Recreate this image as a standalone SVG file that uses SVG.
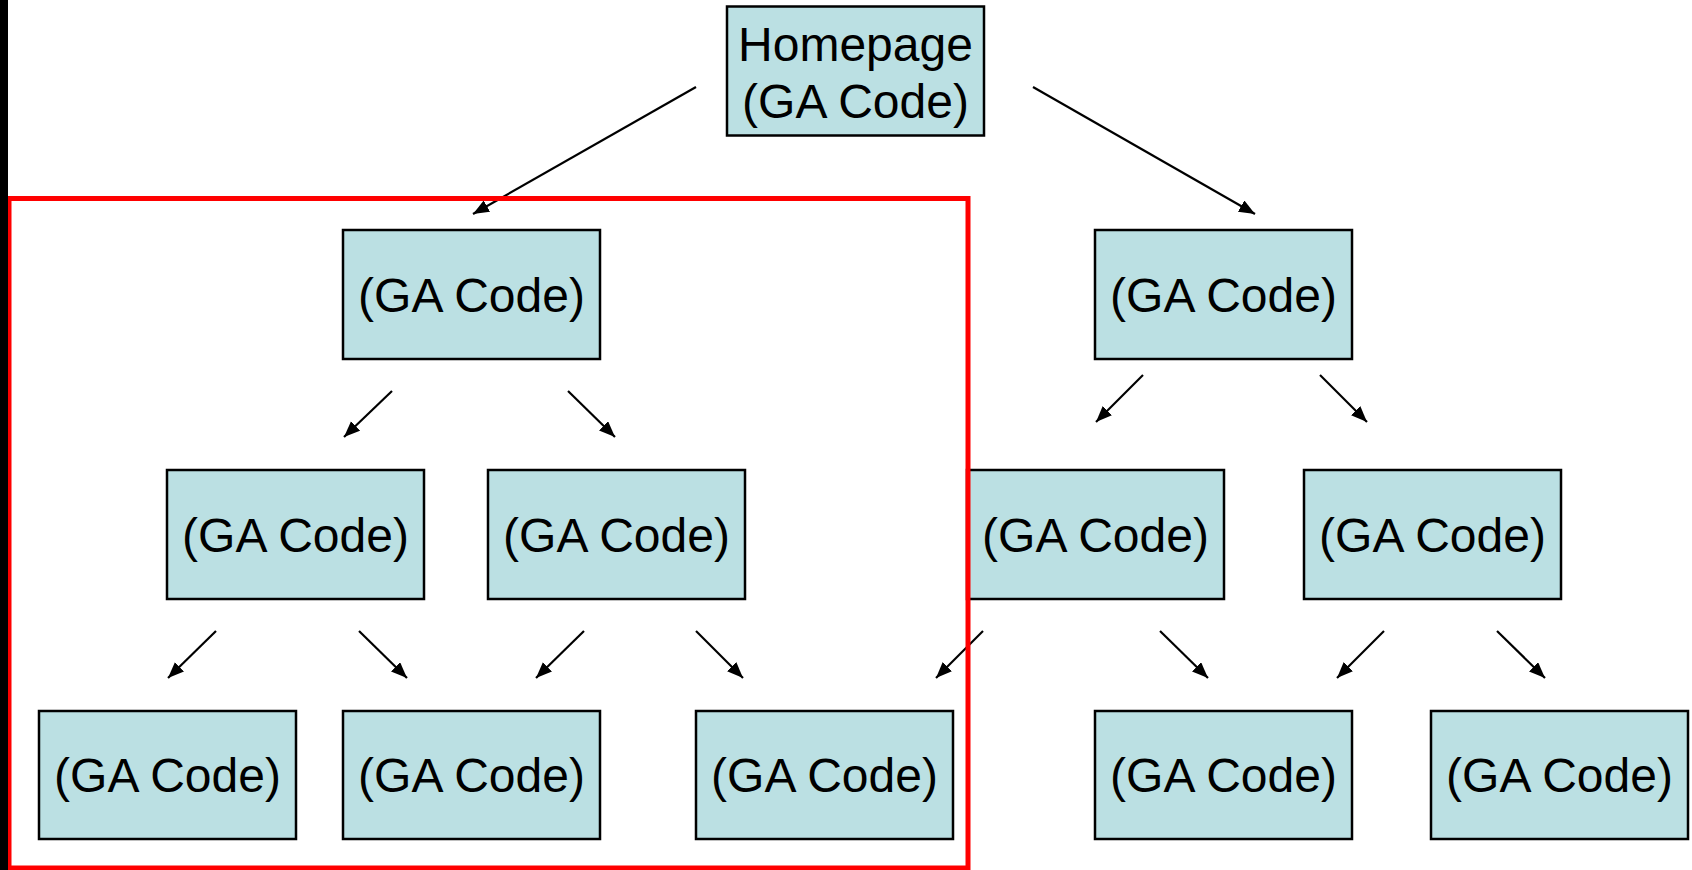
<svg xmlns="http://www.w3.org/2000/svg" width="1692" height="870" viewBox="0 0 1692 870">
<style>
.box{fill:#BBE0E3;stroke:#000;stroke-width:2.5}
.lbl{font-family:"Liberation Sans",Arial,sans-serif;font-size:48px;fill:#000;text-anchor:middle}
.con{stroke:#000;stroke-width:2.2;fill:none;marker-end:url(#arr)}
</style>
<defs>
<marker id="arr" markerUnits="userSpaceOnUse" markerWidth="18" markerHeight="14" refX="16" refY="6.5" orient="auto">
<path d="M0,0 L16,6.5 L0,13 z" fill="#000"/>
</marker>
</defs>
<rect x="0" y="0" width="1692" height="870" fill="#fff"/>
<g id="home"><rect class="box" x="727" y="6.5" width="257" height="129"/><text class="lbl" x="855.5" y="61">Homepage</text><text class="lbl" x="855.5" y="118">(GA Code)</text></g>
<g id="l1a"><rect class="box" x="343" y="230" width="257" height="129"/><text class="lbl" x="471.5" y="312">(GA Code)</text></g>
<g id="l1b"><rect class="box" x="1095" y="230" width="257" height="129"/><text class="lbl" x="1223.5" y="312">(GA Code)</text></g>
<g id="l2a"><rect class="box" x="167" y="470" width="257" height="129"/><text class="lbl" x="295.5" y="552">(GA Code)</text></g>
<g id="l2b"><rect class="box" x="488" y="470" width="257" height="129"/><text class="lbl" x="616.5" y="552">(GA Code)</text></g>
<g id="l2c"><rect class="box" x="967" y="470" width="257" height="129"/><text class="lbl" x="1095.5" y="552">(GA Code)</text></g>
<g id="l2d"><rect class="box" x="1304" y="470" width="257" height="129"/><text class="lbl" x="1432.5" y="552">(GA Code)</text></g>
<g id="l3a"><rect class="box" x="39" y="711" width="257" height="128"/><text class="lbl" x="167.5" y="792">(GA Code)</text></g>
<g id="l3b"><rect class="box" x="343" y="711" width="257" height="128"/><text class="lbl" x="471.5" y="792">(GA Code)</text></g>
<g id="l3c"><rect class="box" x="696" y="711" width="257" height="128"/><text class="lbl" x="824.5" y="792">(GA Code)</text></g>
<g id="l3d"><rect class="box" x="1095" y="711" width="257" height="128"/><text class="lbl" x="1223.5" y="792">(GA Code)</text></g>
<g id="l3e"><rect class="box" x="1431" y="711" width="257" height="128"/><text class="lbl" x="1559.5" y="792">(GA Code)</text></g>
<g id="connectors">
<line class="con" x1="696" y1="87" x2="473" y2="214"/>
<line class="con" x1="1033" y1="87" x2="1255" y2="214"/>
<line class="con" x1="392" y1="391" x2="344" y2="437"/>
<line class="con" x1="568" y1="391" x2="615" y2="437"/>
<line class="con" x1="1143" y1="375" x2="1096" y2="422"/>
<line class="con" x1="1320" y1="375" x2="1367" y2="422"/>
<line class="con" x1="216" y1="631" x2="168" y2="678"/>
<line class="con" x1="359" y1="631" x2="407" y2="678"/>
<line class="con" x1="584" y1="631" x2="536" y2="678"/>
<line class="con" x1="696" y1="631" x2="743" y2="678"/>
<line class="con" x1="983" y1="631" x2="936" y2="678"/>
<line class="con" x1="1160" y1="631" x2="1208" y2="678"/>
<line class="con" x1="1384" y1="631" x2="1337" y2="678"/>
<line class="con" x1="1497" y1="631" x2="1545" y2="678"/>
</g>
<rect id="highlight" x="9" y="198.5" width="959" height="669.5" fill="none" stroke="#FF0000" stroke-width="5"/>
<rect id="leftbar" x="0" y="0" width="8" height="870" fill="#000"/>
</svg>
